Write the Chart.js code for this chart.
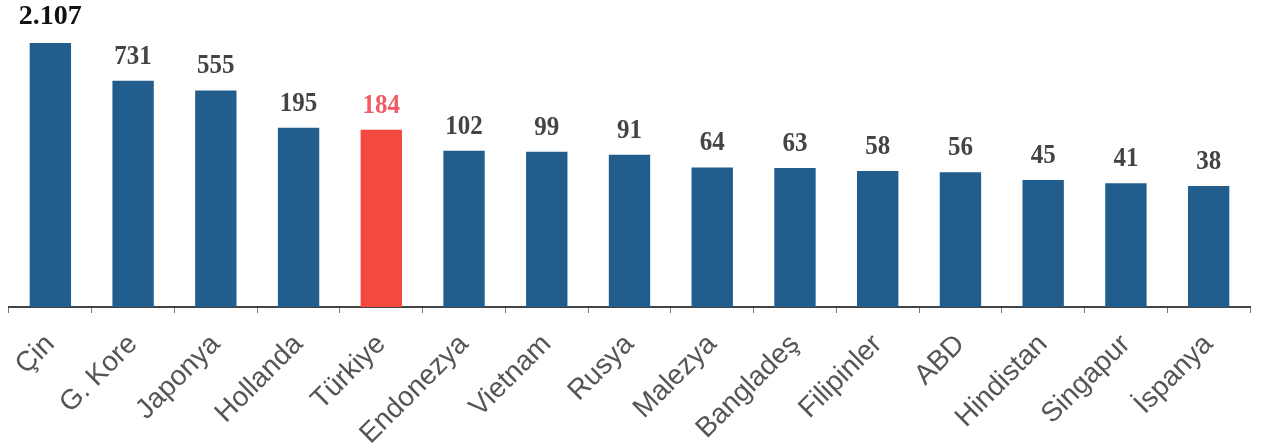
<!DOCTYPE html>
<html>
<head>
<meta charset="utf-8">
<script src="https://cdn.jsdelivr.net/npm/chart.js@4.4.1/dist/chart.umd.min.js"></script>
<style>
  html, body { margin: 0; padding: 0; background: #fff; }
  #wrap { width: 1261px; height: 447px; }
</style>
</head>
<body>
<div id="wrap"><canvas id="myChart"></canvas></div>
<script>
var countries = ['Çin', 'G. Kore', 'Japonya', 'Hollanda', 'Türkiye', 'Endonezya', 'Vietnam', 'Rusya',
                 'Malezya', 'Bangladeş', 'Filipinler', 'ABD', 'Hindistan', 'Singapur', 'İspanya'];
var values = [2107, 731, 555, 195, 184, 102, 99, 91, 64, 63, 58, 56, 45, 41, 38];
var valueLabels = ['2.107', '731', '555', '195', '184', '102', '99', '91', '64', '63', '58', '56', '45', '41', '38'];

var highlight = 'Türkiye';
var barColors = countries.map(function(c){ return c === highlight ? '#F4493F' : '#215E8E'; });

var valueLabelPlugin = {
	id: 'valueLabels',
	afterDatasetsDraw: function(chart){
		var ctx = chart.ctx;
		var meta = chart.getDatasetMeta(0);
		ctx.save();
		ctx.textAlign = 'center';
		ctx.textBaseline = 'alphabetic';
		meta.data.forEach(function(bar, i){
			ctx.save();
			if (i === 0) {
				ctx.font = 'bold 28px "Liberation Serif"';
				ctx.fillStyle = '#111';
				ctx.translate(bar.x, bar.y - 19);
			} else {
				ctx.font = 'bold 25px "Liberation Serif"';
				ctx.fillStyle = countries[i] === highlight ? '#F25A64' : '#444';
				ctx.translate(bar.x, bar.y - 17);
				ctx.scale(1, 1.12);
			}
			ctx.fillText(valueLabels[i], 0, 0);
			ctx.restore();
		});
		ctx.restore();
	}
};

var ctx = document.getElementById('myChart');
var barGraph = new Chart(ctx, {
	type: 'bar',
	data: {
		labels: countries,
		datasets: [{
			data: values,
			backgroundColor: barColors,
			barPercentage: 0.5,
			categoryPercentage: 1.0
		}]
	},
	options: {
		responsive: true,
		maintainAspectRatio: false,
		animation: false,
		layout: { padding: { left: 9, right: 11, top: 0, bottom: 0 } },
		plugins: {
			legend: { display: false },
			tooltip: { enabled: false }
		},
		scales: {
			x: {
				offset: true,
				afterFit: function(scale){ scale.height = 140; },
				grid: {
					display: true,
					offset: true,
					drawOnChartArea: false,
					drawTicks: true,
					tickLength: 6,
					color: '#777'
				},
				border: { display: true, color: '#444', width: 2 },
				ticks: {
					color: '#555',
					font: { family: '"Liberation Sans"', size: 28 },
					maxRotation: 45,
					minRotation: 45,
					autoSkip: false,
					padding: 15
				}
			},
			y: {
				type: 'logarithmic',
				display: false,
				min: 1.27,
				max: 7030
			}
		}
	},
	plugins: [valueLabelPlugin]
});
</script>
</body>
</html>
